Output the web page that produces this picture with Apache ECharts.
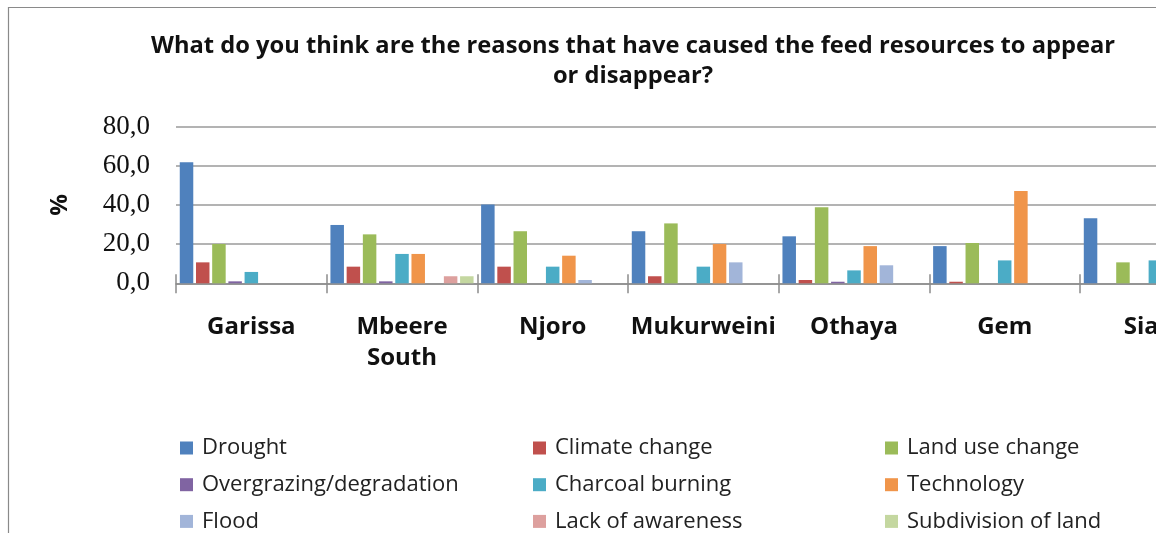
<!DOCTYPE html>
<html>
<head>
<meta charset="utf-8">
<script src="https://cdn.jsdelivr.net/npm/echarts@6/dist/echarts.min.js"></script>
<style>
  html, body { margin: 0; padding: 0; background: #fff; overflow: hidden; }
  /* the frame runs past the window on the right and bottom; the last site is cut at the edge */
  #chart { width: 1266px; height: 600px; }
</style>
</head>
<body>
<div id="chart"></div>
<script>
// Sites (districts) surveyed
const sites = ['Garissa', 'Mbeere South', 'Njoro', 'Mukurweini', 'Othaya', 'Gem', 'Siaya'];

// Share of respondents (%) citing each reason, per site
const drought       = [61.8, 29.8, 40.3, 26.6, 24.0, 19.0, 33.2];
const climateChange = [10.7, 8.5, 8.5, 3.6, 1.7, 0.8, 0];
const landUseChange = [20.1, 25.0, 26.6, 30.6, 38.8, 20.6, 10.7];
const overgrazing   = [1.0, 1.0, 0, 0, 0.8, 0, 0];
const charcoal      = [5.8, 15.0, 8.5, 8.5, 6.6, 11.7, 11.7];
const technology    = [0, 15.0, 14.1, 20.1, 19.0, 47.1, null];
const flood         = [0, 0, 1.7, 10.7, 9.2, 0, null];
const lackAwareness = [0, 3.6, 0, 0, 0, 0, null];
const subdivision   = [0, 3.6, 0, 0, 0, 0, null];

const yTicks = { min: 0, max: 80, interval: 20 };

const reasons = [
  { name: 'Drought',                 data: drought,       color: '#4F81BD' },
  { name: 'Climate change',          data: climateChange, color: '#C0504D' },
  { name: 'Land use change',         data: landUseChange, color: '#9BBB59' },
  { name: 'Overgrazing/degradation', data: overgrazing,   color: '#8064A2' },
  { name: 'Charcoal burning',        data: charcoal,      color: '#4BACC6' },
  { name: 'Technology',              data: technology,    color: '#F0954A' },
  { name: 'Flood',                   data: flood,         color: '#A2B5D9' },
  { name: 'Lack of awareness',       data: lackAwareness, color: '#DDA09E' },
  { name: 'Subdivision of land',     data: subdivision,   color: '#C4D7A0' }
];

const legendColumns = [
  ['Drought', 'Overgrazing/degradation', 'Flood'],
  ['Climate change', 'Charcoal burning', 'Lack of awareness'],
  ['Land use change', 'Technology', 'Subdivision of land']
];
const legendLefts = [180, 533, 885];

const sansFont = '"Open Sans", "Noto Sans", sans-serif';
const axisGray = '#8c8c8c';

const chart = echarts.init(document.getElementById('chart'), null, { renderer: 'canvas' });

chart.setOption({
  animation: false,
  backgroundColor: '#ffffff',
  title: {
    text: 'What do you think are the reasons that have caused the feed resources to appear\nor disappear?',
    left: 'center',
    top: 26,
    textStyle: {
      fontFamily: sansFont,
      fontWeight: 'bold',
      fontSize: 23.7,
      lineHeight: 30,
      color: '#111',
      align: 'center'
    }
  },
  graphic: [{
    type: 'rect',
    shape: { x: 8.5, y: 7.5, width: 1400, height: 700 },
    style: { fill: 'none', stroke: '#8a8a8a', lineWidth: 1.2 },
    silent: true,
    z: -1
  }],
  legend: legendColumns.map((col, i) => ({
    data: col,
    orient: 'vertical',
    left: legendLefts[i],
    top: 437,
    icon: 'rect',
    itemWidth: 13,
    itemHeight: 13,
    itemGap: 14.7,
    padding: 0,
    selectedMode: false,
    textStyle: {
      fontFamily: sansFont,
      fontSize: 22,
      lineHeight: 21,
      color: '#222',
      padding: [0, 0, 0, 4]
    }
  })),
  grid: {
    left: 176,
    top: 126.7,
    width: 1054.7,
    height: 156.6,
    containLabel: false
  },
  xAxis: [{
    type: 'category',
    data: sites,
    position: 'bottom',
    axisLine: { show: true, lineStyle: { color: axisGray, width: 1.5 } },
    axisTick: { show: true, length: 10, lineStyle: { color: axisGray, width: 1.5 } },
    axisLabel: {
      interval: 0,
      margin: 28,
      fontFamily: sansFont,
      fontWeight: 'bold',
      fontSize: 24,
      lineHeight: 31,
      color: '#111',
      formatter: v => v.replace(' ', '\n')
    }
  }, {
    type: 'category',
    data: sites,
    position: 'bottom',
    axisLine: { show: false },
    axisTick: { show: true, inside: true, length: 9, lineStyle: { color: axisGray, width: 1.5 } },
    axisLabel: { show: false },
    splitLine: { show: false }
  }],
  yAxis: {
    type: 'value',
    min: yTicks.min,
    max: yTicks.max,
    interval: yTicks.interval,
    name: '%',
    nameLocation: 'middle',
    nameRotate: 90,
    nameGap: 104,
    nameTextStyle: {
      fontFamily: sansFont,
      fontWeight: 'bold',
      fontSize: 24,
      color: '#111'
    },
    axisLine: { show: false },
    axisTick: { show: false },
    axisLabel: {
      margin: 26,
      fontFamily: '"Liberation Serif", "DejaVu Serif", serif',
      fontSize: 27,
      color: '#111',
      formatter: v => v.toFixed(1).replace('.', ',')
    },
    splitLine: { lineStyle: { color: '#9a9a9a', width: 1.5 } }
  },
  series: reasons.map(r => ({
    name: r.name,
    type: 'bar',
    xAxisIndex: 0,
    data: r.data,
    barGap: '20%',
    barCategoryGap: '5%',
    itemStyle: { color: r.color },
    emphasis: { disabled: true }
  }))
});
</script>
</body>
</html>
